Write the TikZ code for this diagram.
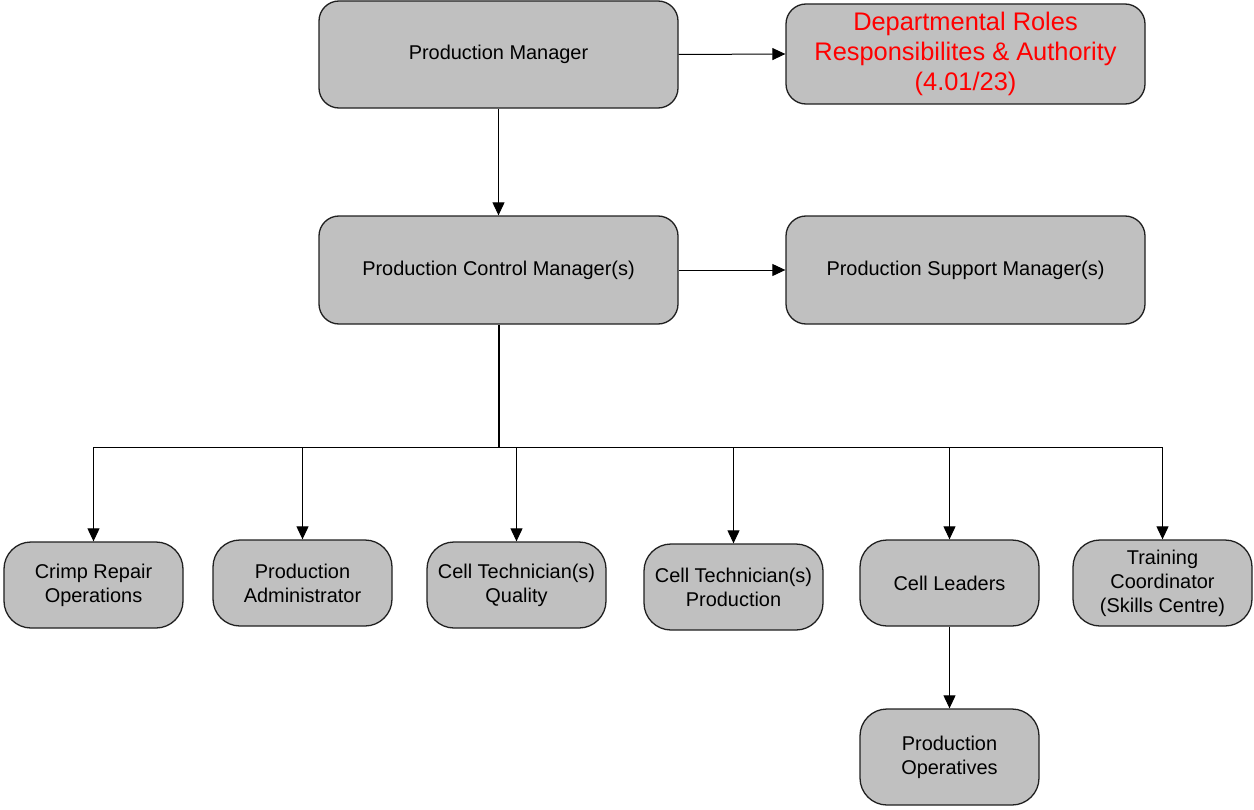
\documentclass[tikz,border=0pt]{standalone}
\usepackage{fontspec}
\setmainfont{Liberation Sans}
\usetikzlibrary{arrows.meta}
\definecolor{boxfill}{HTML}{C0C0C0}
\definecolor{boxline}{HTML}{202020}
\tikzset{
  orgbox/.style={draw=boxline, fill=boxfill, line width=1.3bp, rounded corners=#1,
    align=center, inner sep=0pt, font=\fontsize{20}{24}\selectfont},
  orgbox/.default=27bp,
  conn/.style={line width=1bp, -{Triangle[length=13bp,width=12bp]}},
  trunk/.style={line width=2bp}
}
\begin{document}
\begin{tikzpicture}[x=1bp,y=-1bp]
\useasboundingbox (0,0) rectangle (1254,810);
% top level
\node[orgbox=20bp, minimum width=359bp, minimum height=107bp] (pm) at (498.5,54.5) {Production Manager};
\node[orgbox=20bp, minimum width=359bp, minimum height=100bp, text=red,
      font=\fontsize{25.5}{30.5}\selectfont] (dept) at (965.5,54)
      {Departmental Roles\\Responsibilites \& Authority\\(4.01/23)};
\node[orgbox=20bp, minimum width=359bp, minimum height=108bp] (pcm) at (498.5,270) {Production Control Manager(s)};
\node[orgbox=20bp, minimum width=359bp, minimum height=108bp] (psm) at (965.5,270) {Production Support Manager(s)};
% bottom row
\node[orgbox, minimum width=179bp, minimum height=86bp] (crimp) at (93.5,585) {Crimp Repair\\Operations};
\node[orgbox, minimum width=179bp, minimum height=86bp] (admin) at (302.5,583) {Production\\Administrator};
\node[orgbox, minimum width=179bp, minimum height=86bp] (ctq) at (516.5,585) {Cell Technician(s)\\Quality};
\node[orgbox, minimum width=179bp, minimum height=86bp] (ctp) at (733.5,587) {Cell Technician(s)\\Production};
\node[orgbox, minimum width=179bp, minimum height=86bp] (cl) at (949.5,583) {Cell Leaders};
\node[orgbox, minimum width=179bp, minimum height=86bp] (tc) at (1162.5,583) {Training\\Coordinator\\(Skills Centre)};
\node[orgbox, minimum width=179bp, minimum height=96bp] (po) at (949.5,757) {Production\\Operatives};
% connectors
\draw[conn] (pm.east) -- (dept.west);
\draw[conn] (pm.south) -- (pcm.north);
\draw[conn] (pcm.east) -- (psm.west);
\coordinate (bus) at (498.5,447);
\draw[trunk] (pcm.south) -- (bus);
\foreach \c in {crimp,admin,ctq,ctp,cl,tc}{
  \draw[conn] (bus) -| (\c.north);
}
\draw[conn] (cl.south) -- (po.north);
\end{tikzpicture}
\end{document}
